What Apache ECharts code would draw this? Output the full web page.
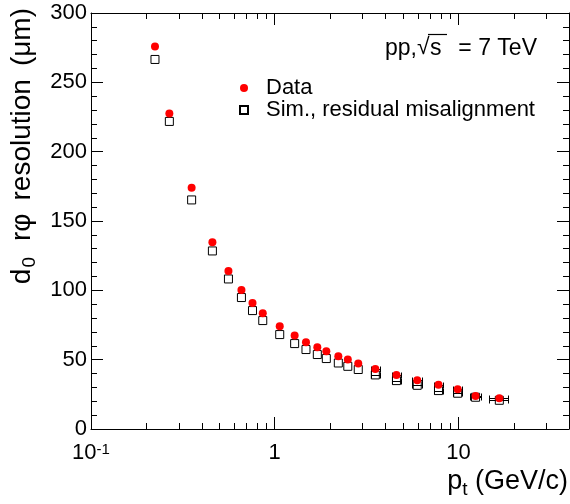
<!DOCTYPE html>
<html><head><meta charset="utf-8">
<script src="https://cdn.jsdelivr.net/npm/echarts/dist/echarts.min.js"></script>
<style>html,body{margin:0;padding:0;background:#fff}#c{width:570px;height:504px}</style>
</head><body><div id="c"></div>
<script>
// ---- data ----
const pt = [0.223, 0.267, 0.353, 0.458, 0.56, 0.659, 0.757, 0.861, 1.065, 1.284, 1.48, 1.706, 1.91, 2.22, 2.5, 2.85, 3.53, 4.6, 5.97, 7.79, 9.91, 12.4, 16.7];
const dataRes = [275.9, 227.6, 173.9, 134.7, 114.0, 100.3, 90.9, 83.5, 74.1, 67.4, 62.6, 58.9, 56.1, 52.5, 50.1, 47.2, 43.3, 39.0, 35.1, 32.0, 28.6, 23.8, 22.1];
const simRes = [266.5, 221.8, 165.2, 128.4, 108.2, 94.8, 85.4, 78.2, 68.1, 61.6, 57.3, 53.7, 50.8, 47.6, 45.2, 42.9, 39.0, 34.9, 31.5, 27.7, 25.8, 22.9, 20.7];
const ptErr = [0, 0, 0, 0, 0, 0, 0, 0, 0, 0, 0, 0, 0, 0, 0, 0, 0.2, 0.25, 0.35, 0.45, 0.6, 0.9, 2.0];
const xMin = 0.1, xMax = 40;
const yMin = 0, yMax = 300, yStep = 50;
const xMinorTicks = [0.2, 0.3, 0.4, 0.5, 0.6, 0.7, 0.8, 0.9, 2, 3, 4, 5, 6, 7, 8, 9, 20, 30];
const xTickValues = [0.1, 1, 10];
const xTickLabels = ['{n|10}{s|-1}', '{n|1}', '{n|10}'];
const seriesNames = ['Data', 'Sim., residual misalignment'];

const FONT = '"Liberation Sans", Arial, Helvetica, sans-serif';
const chart = echarts.init(document.getElementById('c'), null, {renderer: 'canvas'});

function xLabel(v) {
  for (let i = 0; i < xTickValues.length; i++) {
    if (Math.abs(Math.log10(v) - Math.log10(xTickValues[i])) < 1e-6) return xTickLabels[i];
  }
  return '';
}

const axisCommonX = {
  type: 'log', logBase: 10, min: xMin, max: xMax,
  axisLine: {show: true, onZero: false, lineStyle: {color: '#000', width: 1}},
  axisTick: {show: true, inside: true, length: 12, lineStyle: {color: '#000', width: 1}},
  splitLine: {show: false}
};
const axisCommonY = {
  type: 'value', min: yMin, max: yMax, interval: yStep,
  axisLine: {show: true, onZero: false, lineStyle: {color: '#000', width: 1}},
  axisTick: {show: true, inside: true, length: 12, lineStyle: {color: '#000', width: 1}},
  minorTick: {show: true, splitNumber: 5, length: 6, lineStyle: {color: '#000', width: 1}},
  splitLine: {show: false}, minorSplitLine: {show: false}
};

function errRender() {
  return function (params, api) {
    const x = api.value(0), y = api.value(1), e = api.value(2);
    const l = api.coord([x - e, y]);
    const r = api.coord([x + e, y]);
    const yy = Math.round(l[1]) + 0.5;
    const lx = Math.round(l[0]) + 0.5, rx = Math.round(r[0]) + 0.5;
    const st = {stroke: '#000', lineWidth: 1};
    return {type: 'group', children: [
      {type: 'line', shape: {x1: lx, y1: yy, x2: rx, y2: yy}, style: st},
      {type: 'line', shape: {x1: lx, y1: yy - 3, x2: lx, y2: yy + 3}, style: st},
      {type: 'line', shape: {x1: rx, y1: yy - 3, x2: rx, y2: yy + 3}, style: st}
    ]};
  };
}

const errData = pt.map((x, i) => [x, dataRes[i], ptErr[i]]).filter(d => d[2] > 0);
const errSim = pt.map((x, i) => [x, simRes[i], ptErr[i]]).filter(d => d[2] > 0);

const titleRich = {
  a: {fontSize: 28, fontFamily: FONT, fill: '#000', lineHeight: 30, verticalAlign: 'top'},
  b: {fontSize: 19, fontFamily: FONT, fill: '#000', lineHeight: 19, padding: [12, 3, 0, 1], verticalAlign: 'top'},
  sp: {width: 13, lineHeight: 30}
};

const option = {
  animation: false,
  textStyle: {fontFamily: FONT, color: '#000'},
  grid: {left: 91, top: 13, right: 1, bottom: 75, containLabel: false},
  xAxis: [
    Object.assign({}, axisCommonX, {
      position: 'bottom',
      axisLabel: {show: true, margin: 13, color: '#000', fontFamily: FONT, fontSize: 22,
        showMaxLabel: false, formatter: xLabel,
        rich: {n: {fontSize: 22, fontFamily: FONT, color: '#000', lineHeight: 22, verticalAlign: 'bottom'},
               s: {fontSize: 15, fontFamily: FONT, color: '#000', lineHeight: 22, verticalAlign: 'top'}}}
    }),
    Object.assign({}, axisCommonX, {position: 'top', axisLabel: {show: false}})
  ],
  yAxis: [
    Object.assign({}, axisCommonY, {position: 'left',
      axisLabel: {show: true, margin: 4, color: '#000', fontFamily: FONT, fontSize: 22}}),
    Object.assign({}, axisCommonY, {position: 'right', axisLabel: {show: false}})
  ],
  legend: {
    orient: 'vertical', left: 234, top: 72, itemWidth: 8, itemHeight: 8, itemGap: 0,
    selectedMode: false,
    textStyle: {fontFamily: FONT, fontSize: 22, color: '#000', lineHeight: 22, padding: [0, 0, 0, 13]},
    data: [{name: seriesNames[0], icon: 'circle'}, {name: seriesNames[1], icon: 'rect'}]
  },
  graphic: [
    {type: 'text', x: 23, y: 8, rotation: Math.PI / 2, silent: true,
      style: {text: '{a|d}{b|0}{sp|}{a|rφ}{sp|}{a|resolution}{sp|}{a|(μm)}', align: 'right', verticalAlign: 'middle',
        rich: titleRich}},
    {type: 'text', x: 568, y: 483, silent: true,
      style: {text: '{a|p}{b|t}{a| (GeV/c)}', align: 'right', verticalAlign: 'middle',
        rich: {a: {fontSize: 27, fontFamily: FONT, fill: '#000', lineHeight: 30, verticalAlign: 'top'},
               b: {fontSize: 19, fontFamily: FONT, fill: '#000', lineHeight: 19, padding: [12, 0, 0, 0], verticalAlign: 'top'}}}},
    {type: 'text', x: 385, y: 49, silent: true,
      style: {text: 'pp,', font: '23px ' + FONT, fill: '#000', align: 'left', verticalAlign: 'middle'}},
    {type: 'text', x: 417, y: 48, silent: true,
      style: {text: '√', font: '23px ' + FONT, fill: '#000', align: 'left', verticalAlign: 'middle'}},
    {type: 'text', x: 430, y: 49, silent: true,
      style: {text: 's', font: '23px ' + FONT, fill: '#000', align: 'left', verticalAlign: 'middle'}},
    {type: 'line', silent: true, shape: {x1: 428, y1: 34.5, x2: 447, y2: 34.5}, style: {stroke: '#000', lineWidth: 1.2}},
    {type: 'text', x: 537, y: 49, silent: true,
      style: {text: '= 7 TeV', font: '23px ' + FONT, fill: '#000', align: 'right', verticalAlign: 'middle'}}
  ],
  series: [
    {type: 'custom', name: 'minorTicksX', silent: true, clip: false, z: 1,
      data: xMinorTicks.map(v => [v, yMin]),
      renderItem: function (params, api) {
        const v = api.value(0);
        const b = api.coord([v, yMin]);
        const t = api.coord([v, yMax]);
        const x = Math.round(b[0]) + 0.5;
        const st = {stroke: '#000', lineWidth: 1};
        return {type: 'group', children: [
          {type: 'line', shape: {x1: x, y1: b[1], x2: x, y2: b[1] - 6}, style: st},
          {type: 'line', shape: {x1: x, y1: t[1], x2: x, y2: t[1] + 6}, style: st}
        ]};
      }},
    {type: 'custom', name: 'errSim', silent: true, clip: false, z: 2, data: errSim, renderItem: errRender()},
    {type: 'custom', name: 'errData', silent: true, clip: false, z: 2, data: errData, renderItem: errRender()},
    {type: 'scatter', name: seriesNames[1], symbol: 'rect', symbolSize: 8, z: 3,
      itemStyle: {color: 'rgba(0,0,0,0)', borderColor: '#000', borderWidth: 1, opacity: 1},
      emphasis: {disabled: true},
      data: pt.map((x, i) => [x, simRes[i]])},
    {type: 'scatter', name: seriesNames[0], symbol: 'circle', symbolSize: 8, z: 4,
      itemStyle: {color: '#ff0000', opacity: 1},
      emphasis: {disabled: true},
      data: pt.map((x, i) => [x, dataRes[i]])}
  ]
};
chart.setOption(option);
</script>
</body></html>
